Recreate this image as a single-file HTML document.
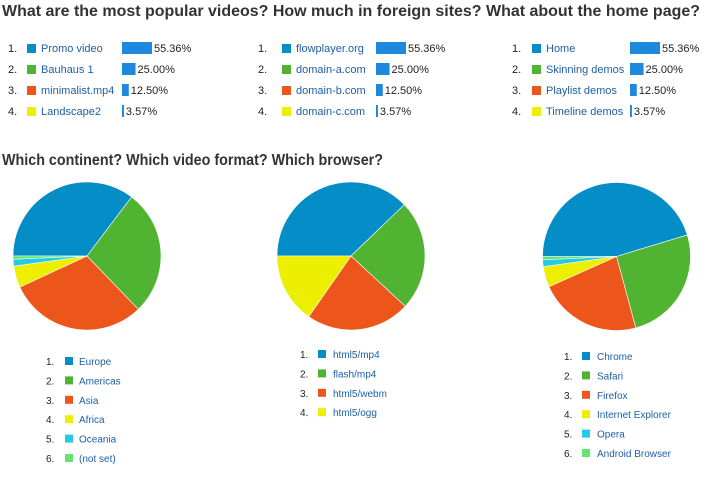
<!DOCTYPE html>
<html><head><meta charset="utf-8">
<style>
body{margin:0;background:#fff;width:711px;height:477px;overflow:hidden;font-family:"Liberation Sans",Arial,sans-serif}
svg text{font-family:"Liberation Sans",Arial,sans-serif}
</style></head>
<body>
<svg id="c" width="711" height="477">
<text x="2" y="16" font-size="15.5" font-weight="bold" fill="#333" textLength="698" lengthAdjust="spacingAndGlyphs">What are the most popular videos? How much in foreign sites? What about the home page?</text>
<text x="2" y="165" font-size="15.5" font-weight="bold" fill="#333" textLength="381" lengthAdjust="spacingAndGlyphs">Which continent? Which video format? Which browser?</text>
</svg>
<script>
const colors=["#058dc7","#50b432","#ed561b","#edef00","#24cbe5","#64e572"];
const videoLabels=["Promo video","Bauhaus 1","minimalist.mp4","Landscape2"];
const siteLabels=["flowplayer.org","domain-a.com","domain-b.com","domain-c.com"];
const pageLabels=["Home","Skinning demos","Playlist demos","Timeline demos"];
const listValues=[55.36,25.00,12.50,3.57];
const continentLabels=["Europe","Americas","Asia","Africa","Oceania","(not set)"];
const continentValues=[35.3,27.5,30.3,4.7,1.5,0.7];
const formatLabels=["html5/mp4","flash/mp4","html5/webm","html5/ogg"];
const formatValues=[37.8,24.1,22.8,15.3];
const browserLabels=["Chrome","Safari","Firefox","Internet Explorer","Opera","Android Browser"];
const browserValues=[45.3,25.5,22.5,4.5,1.5,0.7];

const NS="http://www.w3.org/2000/svg";
const svg=document.getElementById('c');
function mk(tag,attrs,parent){const e=document.createElementNS(NS,tag);for(const k in attrs)e.setAttribute(k,attrs[k]);(parent||svg).appendChild(e);return e;}
const rowY=[48,69,90,111];
function barW(v){return v*30/55.36;}
function list(labels,nx,sx,lx,bx,prefix){
  const g=mk('g',{});
  
  
  labels.forEach((lab,i)=>{
    const y=rowY[i];
    const n=mk('text',{x:nx,y:y+4,'font-size':11,fill:'#222'},g);n.textContent=(i+1)+'.';
    
    
    const s=mk('rect',{x:sx,y:y-4,width:9,height:9,fill:colors[i]},g);
    
    
    const t=mk('text',{x:lx,y:y+4,'font-size':11,fill:'#1f5fa6'},g);t.textContent=lab;
    
    
    const w=Math.max(1.5,barW(listValues[i]));
    const b=mk('rect',{x:bx,y:y-6,width:w,height:12,fill:'#1e88dc'},g);
    
    
    const p=mk('text',{x:bx+w+2,y:y+4,'font-size':11,fill:'#222'},g);p.textContent=listValues[i].toFixed(2)+'%';
    
    
  });
}
list(videoLabels,8,27,41,122,'videos');
list(siteLabels,258,282,296,376,'sites');
list(pageLabels,512,532,546,630,'pages');

function pie(vals,labels,cx,cy,r,lnx,lsx,llx,ly0,name){
  const g=mk('g',{});
  
  
  const tot=vals.reduce((a,b)=>a+b,0);
  let a=Math.PI;
  vals.forEach((v,i)=>{
    const a2=a+v/tot*2*Math.PI;
    const x1=cx+r*Math.cos(a),y1=cy+r*Math.sin(a),x2=cx+r*Math.cos(a2),y2=cy+r*Math.sin(a2);
    const large=(a2-a)>Math.PI?1:0;
    const p=mk('path',{d:`M${cx},${cy}L${x1},${y1}A${r},${r} 0 ${large} 1 ${x2},${y2}Z`,fill:colors[i],stroke:'#fff','stroke-width':0.6},g);
    
    
    a=a2;
  });
  labels.forEach((lab,i)=>{
    const y=ly0+i*19.4;
    const n=mk('text',{x:lnx,y:y+4,'font-size':10,fill:'#222'},g);n.textContent=(i+1)+'.';
    
    
    const s=mk('rect',{x:lsx,y:y-4,width:8,height:8,fill:colors[i]},g);
    
    
    const t=mk('text',{x:llx,y:y+4,'font-size':10,fill:'#1f5fa6'},g);t.textContent=lab;
    
    
  });
}
pie(continentValues,continentLabels,87,256,74,46,65,79,361,'continent');
pie(formatValues,formatLabels,351,256,74,300,318,333,354,'format');
pie(browserValues,browserLabels,616.5,256.5,74,564,582,597,356,'browser');
</script>
</body></html>
